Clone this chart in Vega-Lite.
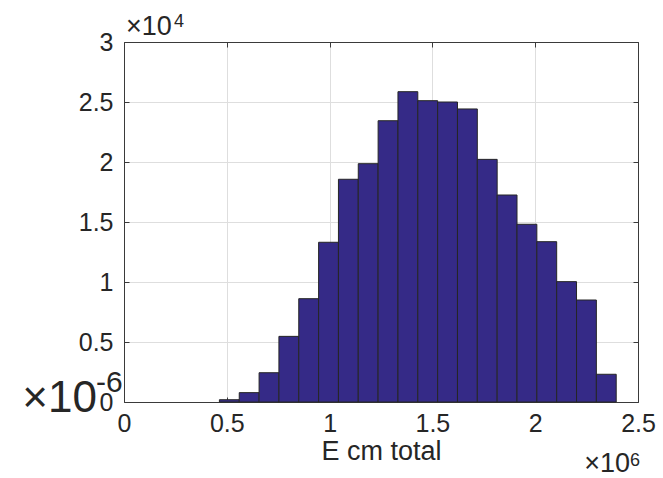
{
  "$schema": "https://vega.github.io/schema/vega-lite/v6.json",
  "width": 514,
  "height": 360,
  "autosize": {"type": "none"},
  "padding": {"left": 124, "top": 42, "right": 25, "bottom": 76},
  "background": "white",
  "config": {
    "view": {"stroke": null},
    "font": "Liberation Sans",
    "axis": {
      "labelFont": "Liberation Sans",
      "titleFont": "Liberation Sans",
      "labelColor": "#262626",
      "titleColor": "#262626",
      "domainColor": "#3a3a3a",
      "tickColor": "#3a3a3a",
      "gridColor": "#dedede",
      "labelFontSize": 25,
      "titleFontSize": 27,
      "titleFontWeight": "normal"
    }
  },
  "datasets": {
    "bins": [
      {"start": 464000, "end": 560500, "count": 190},
      {"start": 560500, "end": 657000, "count": 780},
      {"start": 657000, "end": 753500, "count": 2440},
      {"start": 753500, "end": 850000, "count": 5470},
      {"start": 850000, "end": 946500, "count": 8610},
      {"start": 946500, "end": 1043000, "count": 13310},
      {"start": 1043000, "end": 1139500, "count": 18560},
      {"start": 1139500, "end": 1236000, "count": 19860},
      {"start": 1236000, "end": 1332500, "count": 23440},
      {"start": 1332500, "end": 1429000, "count": 25860},
      {"start": 1429000, "end": 1525500, "count": 25110},
      {"start": 1525500, "end": 1622000, "count": 25000},
      {"start": 1622000, "end": 1718500, "count": 24420},
      {"start": 1718500, "end": 1815000, "count": 20220},
      {"start": 1815000, "end": 1911500, "count": 17250},
      {"start": 1911500, "end": 2008000, "count": 14810},
      {"start": 2008000, "end": 2104500, "count": 13360},
      {"start": 2104500, "end": 2201000, "count": 10030},
      {"start": 2201000, "end": 2297500, "count": 8500},
      {"start": 2297500, "end": 2394000, "count": 2310}
    ]
  },
  "resolve": {"axis": {"x": "independent", "y": "independent"}},
  "layer": [
    {
      "data": {"name": "bins"},
      "mark": {"type": "bar", "fill": "#352a87", "stroke": "#262626", "strokeWidth": 1},
      "encoding": {
        "x": {
          "field": "start", "type": "quantitative",
          "scale": {"domain": [0, 2500000], "nice": false, "zero": false},
          "axis": {
            "orient": "bottom",
            "values": [0, 500000, 1000000, 1500000, 2000000, 2500000],
            "labelExpr": "datum.value / 1000000",
            "title": "E cm total",
            "grid": true,
            "tickSize": -5,
            "labelPadding": 14,
            "titlePadding": 2,
            "labelFlush": false
          }
        },
        "x2": {"field": "end"},
        "y": {
          "field": "count", "type": "quantitative",
          "scale": {"domain": [0, 30000], "nice": false},
          "axis": {
            "orient": "left",
            "values": [0, 5000, 10000, 15000, 20000, 25000, 30000],
            "labelExpr": "datum.value / 10000",
            "title": null,
            "grid": true,
            "tickSize": -5,
            "labelPadding": 16,
            "labelFlush": false
          }
        },
        "y2": {"datum": 0}
      }
    },
    {
      "data": {"name": "bins"},
      "mark": {"type": "point", "opacity": 0},
      "encoding": {
        "x": {
          "field": "start", "type": "quantitative",
          "axis": {
            "orient": "top",
            "values": [0, 500000, 1000000, 1500000, 2000000, 2500000],
            "labels": false, "title": null, "grid": false, "tickSize": -5
          }
        },
        "y": {
          "field": "count", "type": "quantitative",
          "axis": {
            "orient": "right",
            "values": [0, 5000, 10000, 15000, 20000, 25000, 30000],
            "labels": false, "title": null, "grid": false, "tickSize": -5
          }
        }
      }
    },
    {
      "data": {"values": [{}]},
      "mark": {"type": "text", "text": "×10", "align": "left", "baseline": "alphabetic", "fontSize": 27, "color": "#262626", "dx": 2, "dy": -7},
      "encoding": {"x": {"datum": 0, "type": "quantitative", "axis": null}, "y": {"datum": 30000, "type": "quantitative", "axis": null}}
    },
    {
      "data": {"values": [{}]},
      "mark": {"type": "text", "text": "4", "align": "left", "baseline": "alphabetic", "fontSize": 18, "color": "#262626", "dx": 50, "dy": -15},
      "encoding": {"x": {"datum": 0, "type": "quantitative", "axis": null}, "y": {"datum": 30000, "type": "quantitative", "axis": null}}
    },
    {
      "data": {"values": [{}]},
      "mark": {"type": "text", "text": "×10", "align": "right", "baseline": "alphabetic", "fontSize": 27, "color": "#262626", "dx": -8, "dy": 70},
      "encoding": {"x": {"datum": 2500000, "type": "quantitative", "axis": null}, "y": {"datum": 0, "type": "quantitative", "axis": null}}
    },
    {
      "data": {"values": [{}]},
      "mark": {"type": "text", "text": "6", "align": "left", "baseline": "alphabetic", "fontSize": 18, "color": "#262626", "dx": -8, "dy": 64},
      "encoding": {"x": {"datum": 2500000, "type": "quantitative", "axis": null}, "y": {"datum": 0, "type": "quantitative", "axis": null}}
    },
    {
      "data": {"values": [{}]},
      "mark": {"type": "text", "text": "×10", "align": "right", "baseline": "alphabetic", "fontSize": 44, "color": "#262626", "dx": -27, "dy": 10},
      "encoding": {"x": {"datum": 0, "type": "quantitative", "axis": null}, "y": {"datum": 0, "type": "quantitative", "axis": null}}
    },
    {
      "data": {"values": [{}]},
      "mark": {"type": "text", "text": "-6", "align": "left", "baseline": "alphabetic", "fontSize": 30, "color": "#262626", "dx": -28, "dy": -10},
      "encoding": {"x": {"datum": 0, "type": "quantitative", "axis": null}, "y": {"datum": 0, "type": "quantitative", "axis": null}}
    }
  ]
}
